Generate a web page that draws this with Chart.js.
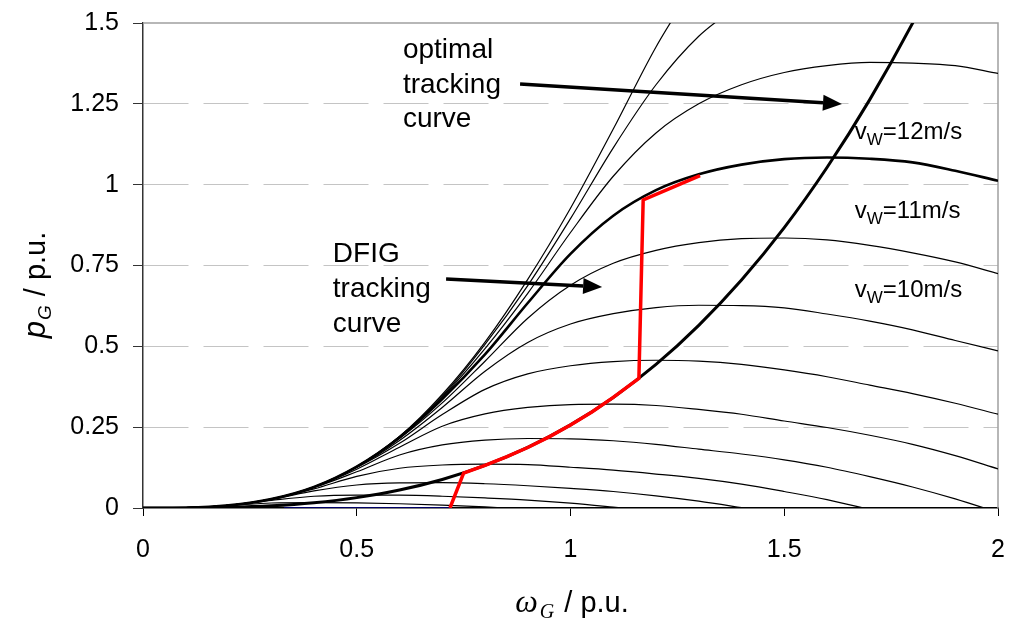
<!DOCTYPE html>
<html>
<head>
<meta charset="utf-8">
<script src="https://cdn.jsdelivr.net/npm/chart.js@4.4.1/dist/chart.umd.min.js"></script>
<style>
  html, body { margin: 0; padding: 0; background: #fff; }
  #wrap { width: 1009px; height: 619px; }
</style>
</head>
<body>
<div id="wrap"><canvas id="chart" width="1009" height="619"></canvas></div>
<script>
// generator speed grid (p.u.)
const omega = [0, 0.1, 0.2, 0.3, 0.4, 0.5, 0.6, 0.7, 0.8, 0.9, 1.0,
               1.1, 1.2, 1.3, 1.4, 1.5, 1.6, 1.7, 1.8, 1.9, 2.0];

// generator power (p.u.) for each wind speed
const p3  = [0, 0.001, 0.0074, 0.0154, 0.0169, 0.0158, 0.0131, 0.0092, 0.0032, -0.0044];
const p4  = [0, 0.001, 0.0081, 0.0235, 0.0364, 0.040, 0.0396, 0.0363, 0.0311, 0.0246, 0.0152, 0.0028, -0.0105];
const p5  = [0, 0.001, 0.0081, 0.0262, 0.0528, 0.0711, 0.0775, 0.0782, 0.075, 0.0688, 0.0607, 0.051, 0.0376, 0.021, 0.0009, -0.02];
const p6  = [0, 0.001, 0.0081, 0.0272, 0.0593, 0.098, 0.123, 0.133, 0.1355, 0.134, 0.126, 0.117, 0.105, 0.0915, 0.0737, 0.051, 0.026, -0.005];
const p7  = [0, 0.001, 0.0082, 0.0275, 0.0633, 0.112, 0.164, 0.195, 0.210, 0.215, 0.214, 0.208, 0.197, 0.182, 0.167, 0.149, 0.126, 0.097, 0.065, 0.028, -0.014];
const p8  = [0, 0.001, 0.008, 0.0277, 0.0646, 0.120, 0.188, 0.253, 0.291, 0.311, 0.320, 0.321, 0.317, 0.305, 0.290, 0.269, 0.249, 0.225, 0.197, 0.162, 0.121];
const p9  = [0, 0.001, 0.008, 0.0276, 0.065, 0.125, 0.200, 0.289, 0.367, 0.415, 0.440, 0.453, 0.457, 0.454, 0.444, 0.427, 0.406, 0.380, 0.354, 0.324, 0.290];
const p10 = [0, 0.001, 0.008, 0.0275, 0.065, 0.126, 0.209, 0.311, 0.423, 0.512, 0.569, 0.601, 0.620, 0.627, 0.626, 0.619, 0.600, 0.578, 0.551, 0.518, 0.486];
const p11 = [0, 0.001, 0.008, 0.0275, 0.065, 0.128, 0.215, 0.325, 0.454, 0.587, 0.689, 0.757, 0.797, 0.821, 0.833, 0.835, 0.829, 0.812, 0.789, 0.761, 0.725];
const p12 = [0, 0.001, 0.008, 0.0275, 0.065, 0.128, 0.218, 0.337, 0.475, 0.634, 0.786, 0.904, 0.983, 1.032, 1.062, 1.079, 1.084, 1.080, 1.069, 1.043, 1.012];
const p13 = [0, 0.001, 0.008, 0.0276, 0.065, 0.128, 0.221, 0.343, 0.493, 0.664, 0.852, 1.026, 1.160, 1.250, 1.309, 1.347, 1.368, 1.378, 1.376, 1.368, 1.344];
const p14 = [0, 0.001, 0.008, 0.0277, 0.0657, 0.128, 0.220, 0.346, 0.506, 0.688, 0.895, 1.114, 1.309, 1.459, 1.561];
const p15 = [0, 0.001, 0.008, 0.028, 0.065, 0.128, 0.221, 0.351, 0.513, 0.707, 0.927, 1.172, 1.426, 1.640];

// optimal tracking curve
const pOpt = [0, 0.0003, 0.0021, 0.0069, 0.0164, 0.0321, 0.0555, 0.0882, 0.1316, 0.1874, 0.257,
              0.342, 0.444, 0.565, 0.705, 0.867, 1.053, 1.263, 1.499, 1.763];

// DFIG tracking curve (red)
const dfigOmega = [0.718, 0.75, 0.8, 0.85, 0.9, 0.95, 1.0, 1.05, 1.1, 1.16, 1.17, 1.303];
const dfigP     = [0, 0.108, 0.132, 0.158, 0.187, 0.220, 0.257, 0.297, 0.342, 0.401, 0.953, 1.028];

// blue stretch along the axis
const blueOmega = [0.33, 0.718];
const blueP     = [0, 0];

const yTicks = [0, 0.25, 0.5, 0.75, 1, 1.25, 1.5];
const xTicks = [0, 0.5, 1, 1.5, 2];

const FONT = '"Liberation Sans", Arial, sans-serif';
const SERIF = '"Liberation Serif", "DejaVu Serif", serif';

const pts = (xs, ys) => ys.map((y, i) => ({ x: xs[i], y }));

const windCurves = [
  [15, p15], [14, p14], [13, p13], [12, p12], [11, p11], [10, p10],
  [9, p9], [8, p8], [7, p7], [6, p6], [5, p5], [4, p4], [3, p3]
];

const datasets = [
  { label: 'DFIG tracking', data: pts(dfigOmega, dfigP), borderColor: '#ff0000', borderWidth: 3.5, tension: 0 },
  { label: 'optimal tracking', data: pts(omega, pOpt), borderColor: '#000', borderWidth: 3, cubicInterpolationMode: 'monotone' },
  ...windCurves.map(([v, ys]) => ({
    label: v + ' m/s',
    data: pts(omega, ys),
    borderColor: '#000',
    borderWidth: v === 12 ? 2.6 : 1.2,
    cubicInterpolationMode: 'monotone'
  })),
  { label: 'blue', data: pts(blueOmega, blueP), borderColor: '#00008b', borderWidth: 1.5, tension: 0 }
];

// annotation positions in data units
const optText = { x: 0.608, lines: ['optimal', 'tracking', 'curve'], y: [1.392, 1.285, 1.178] };
const dfigText = { x: 0.444, lines: ['DFIG', 'tracking', 'curve'], y: [0.761, 0.653, 0.544] };
const arrows = [
  { from: [0.882, 1.311], to: [1.635, 1.2495] },
  { from: [0.709, 0.708], to: [1.074, 0.6835] }
];
const windLabels = [
  { x: 1.665, y: 1.141, text: '=12m/s' },
  { x: 1.665, y: 0.897, text: '=11m/s' },
  { x: 1.665, y: 0.653, text: '=10m/s' }
];

function drawArrow(ctx, x1, y1, x2, y2) {
  const ang = Math.atan2(y2 - y1, x2 - x1);
  const len = 19, half = 8;
  const bx = x2 - len * Math.cos(ang), by = y2 - len * Math.sin(ang);
  ctx.beginPath();
  ctx.moveTo(x1, y1);
  ctx.lineTo(bx, by);
  ctx.lineWidth = 3.5;
  ctx.strokeStyle = '#000';
  ctx.stroke();
  ctx.beginPath();
  ctx.moveTo(x2, y2);
  ctx.lineTo(bx + half * Math.sin(ang), by - half * Math.cos(ang));
  ctx.lineTo(bx - half * Math.sin(ang), by + half * Math.cos(ang));
  ctx.closePath();
  ctx.fillStyle = '#000';
  ctx.fill();
}

const overlay = {
  id: 'overlay',
  beforeDatasetsDraw(chart) {
    const { ctx, chartArea: a } = chart;
    ctx.save();
    ctx.strokeStyle = '#a0a0a0';
    ctx.lineWidth = 1.5;
    ctx.beginPath();
    ctx.moveTo(a.left, a.top);
    ctx.lineTo(a.right, a.top);
    ctx.lineTo(a.right, a.bottom);
    ctx.stroke();
    ctx.restore();
  },
  afterDatasetsDraw(chart) {
    const { ctx, scales: { x, y } } = chart;
    const px = v => x.getPixelForValue(v), py = v => y.getPixelForValue(v);
    ctx.save();
    ctx.fillStyle = '#000';
    ctx.textBaseline = 'alphabetic';
    ctx.textAlign = 'left';
    ctx.font = '28px ' + FONT;
    [optText, dfigText].forEach(t => {
      t.lines.forEach((s, i) => ctx.fillText(s, px(t.x), py(t.y[i])));
    });
    arrows.forEach(a => drawArrow(ctx, px(a.from[0]), py(a.from[1]), px(a.to[0]), py(a.to[1])));

    windLabels.forEach(l => {
      let cx = px(l.x);
      const cy = py(l.y);
      ctx.font = '24px ' + FONT;
      ctx.fillText('v', cx, cy);
      cx += ctx.measureText('v').width;
      ctx.font = '17px ' + FONT;
      ctx.fillText('W', cx, cy + 6);
      cx += ctx.measureText('W').width;
      ctx.font = '24px ' + FONT;
      ctx.fillText(l.text, cx, cy);
    });

    // x axis title
    ctx.font = 'italic 32px ' + SERIF;
    const wW = ctx.measureText('\u03c9').width;
    ctx.font = 'italic 20px ' + SERIF;
    const gW = ctx.measureText('G').width;
    ctx.font = '29px ' + FONT;
    const restW = ctx.measureText(' / p.u.').width;
    let tx = 572 - (wW + gW + 4 + restW) / 2;
    const ty = 612;
    ctx.font = 'italic 32px ' + SERIF;
    ctx.fillText('\u03c9', tx, ty);
    tx += wW + 2;
    ctx.font = 'italic 20px ' + SERIF;
    ctx.fillText('G', tx, ty + 6);
    tx += gW + 2;
    ctx.font = '29px ' + FONT;
    ctx.fillText(' / p.u.', tx, ty);

    // y axis title, rotated
    ctx.translate(45, 285);
    ctx.rotate(-Math.PI / 2);
    ctx.font = 'italic 31px ' + FONT;
    const pW = ctx.measureText('p').width;
    ctx.font = 'italic 19px ' + FONT;
    const g2W = ctx.measureText('G').width;
    ctx.font = '29px ' + FONT;
    const r2W = ctx.measureText(' / p.u.').width;
    let sx = -(pW + g2W + 2 + r2W) / 2;
    ctx.font = 'italic 31px ' + FONT;
    ctx.fillText('p', sx, 0);
    sx += pW + 1;
    ctx.font = 'italic 19px ' + FONT;
    ctx.fillText('G', sx, 6);
    sx += g2W + 1;
    ctx.font = '29px ' + FONT;
    ctx.fillText(' / p.u.', sx, 0);
    ctx.restore();
  }
};

new Chart(document.getElementById('chart'), {
  type: 'line',
  data: { datasets },
  options: {
    responsive: false,
    animation: false,
    devicePixelRatio: 1,
    layout: { padding: { top: 23, right: 11, left: 0, bottom: 0 } },
    elements: { point: { radius: 0 }, line: { fill: false } },
    plugins: { legend: { display: false }, tooltip: { enabled: false } },
    scales: {
      x: {
        type: 'linear',
        min: 0, max: 2,
        afterFit: s => { s.height = 111; s.paddingLeft = 0; s.paddingRight = 0; },
        afterBuildTicks: s => { s.ticks = xTicks.map(v => ({ value: v })); },
        ticks: { color: '#000', font: { family: FONT, size: 25 }, padding: 19, maxRotation: 0,
                 callback: v => String(v) },
        grid: { drawOnChartArea: false, drawTicks: true, tickLength: 8, tickColor: '#000' },
        border: { color: '#000', width: 1.5 }
      },
      y: {
        type: 'linear',
        min: 0, max: 1.5,
        afterFit: s => { s.width = 143; s.paddingTop = 0; s.paddingBottom = 0; },
        afterBuildTicks: s => { s.ticks = yTicks.map(v => ({ value: v })); },
        ticks: { color: '#000', font: { family: FONT, size: 25 }, padding: 14,
                 callback: v => String(v) },
        grid: {
          color: c => (c.tick && (c.tick.value === 0 || c.tick.value === 1.5)) ? 'rgba(0,0,0,0)' : '#c4c4c4',
          lineWidth: 1, tickLength: 10, tickColor: '#333'
        },
        border: { color: '#333', width: 1.5, dash: [45, 15] }
      }
    }
  },
  plugins: [overlay]
});
</script>
</body>
</html>
